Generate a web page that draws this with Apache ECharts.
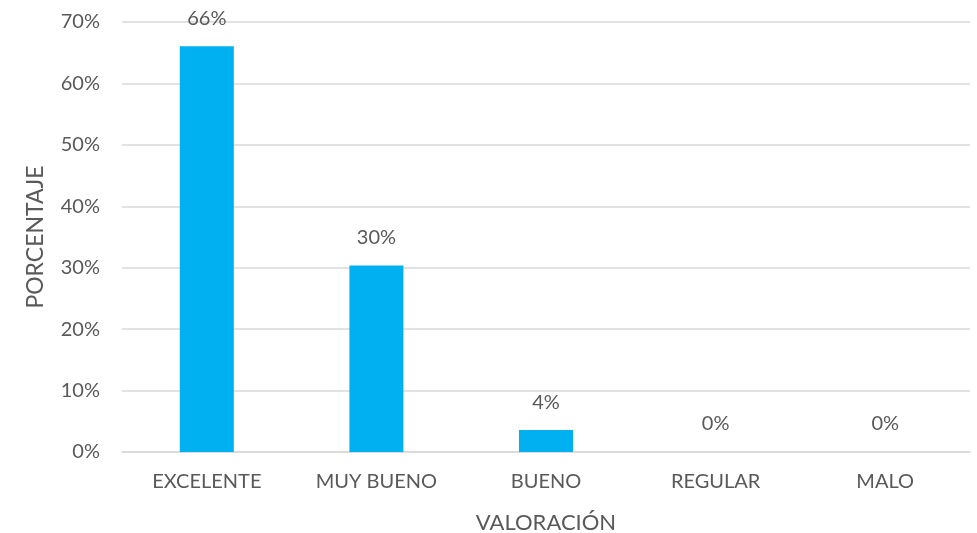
<!DOCTYPE html>
<html><head><meta charset="utf-8">
<script src="https://cdn.jsdelivr.net/npm/echarts@6/dist/echarts.min.js"></script>
<style>html,body{margin:0;padding:0;background:#fff}#c{width:977px;height:533px}</style>
</head><body><div id="c"></div>
<script>
const categories = ['EXCELENTE', 'MUY BUENO', 'BUENO', 'REGULAR', 'MALO'];
const values = [0.6607, 0.3036, 0.0357, 0, 0];
const yTicks = [0, 0.1, 0.2, 0.3, 0.4, 0.5, 0.6, 0.7];
const xTitle = 'VALORACIÓN';
const yTitle = 'PORCENTAJE';

const font = 'Lato, "Open Sans", sans-serif';
const txt = '#595959';
const chart = echarts.init(document.getElementById('c'));
chart.setOption({
  animation: false,
  grid: { left: 122, right: 7, top: 22, bottom: 81, containLabel: false, outerBoundsMode: 'none' },
  xAxis: {
    type: 'category', data: categories,
    name: xTitle, nameLocation: 'middle', nameGap: 60,
    nameTextStyle: { color: txt, fontSize: 22, fontFamily: font },
    axisLine: { show: true, lineStyle: { color: '#d9d9d9', width: 1.5 } },
    axisTick: { show: false },
    axisLabel: { color: txt, fontSize: 20, fontFamily: font, margin: 20 }
  },
  yAxis: {
    type: 'value', min: yTicks[0], max: yTicks[yTicks.length - 1], interval: 0.1,
    name: yTitle, nameLocation: 'middle', nameGap: 75,
    nameTextStyle: { color: txt, fontSize: 23, fontFamily: font },
    axisLine: { show: false }, axisTick: { show: false },
    splitLine: { lineStyle: { color: '#d9d9d9', width: 1.5 } },
    axisLabel: { color: txt, fontSize: 20, fontFamily: font, margin: 22,
      formatter: v => Math.round(v * 100) + '%' }
  },
  series: [{
    type: 'bar', data: values, barWidth: 54,
    itemStyle: { color: '#00B0F0' },
    label: { show: true, position: 'top', distance: 18, color: txt, fontSize: 20, fontFamily: font,
      formatter: p => Math.round(p.value * 100) + '%' }
  }]
});
</script></body></html>
